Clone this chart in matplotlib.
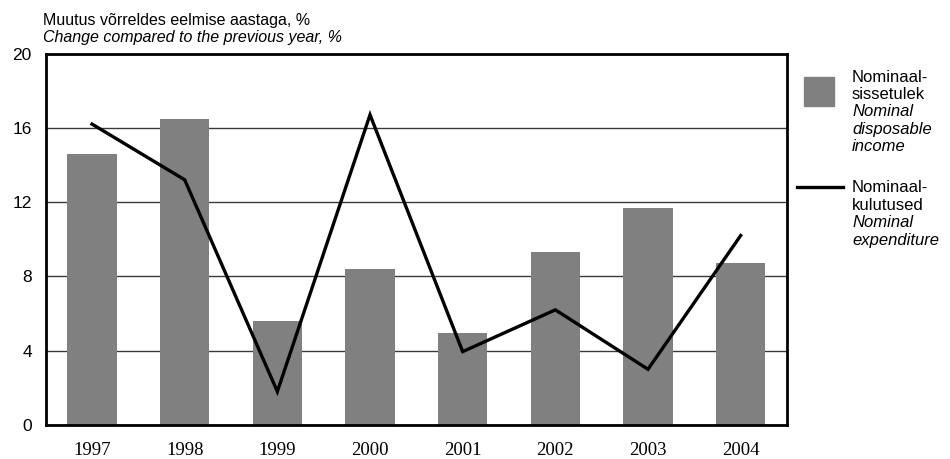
import matplotlib
matplotlib.use("Agg")
import matplotlib.pyplot as plt
from matplotlib.patches import Rectangle
from matplotlib.lines import Line2D

years = ["1997", "1998", "1999", "2000", "2001", "2002", "2003", "2004"]
income = [14.6, 16.5, 5.6, 8.4, 4.95, 9.3, 11.7, 8.7]
expenditure = [16.2, 13.2, 1.8, 16.7, 3.95, 6.2, 3.0, 10.2]
yticks = [0, 4, 8, 12, 16, 20]

W, H = 950, 459
fig = plt.figure(figsize=(9.5, 4.59), dpi=100)
ax = fig.add_axes([45.7 / W, 1 - 425 / H, (787 - 45.7) / W, (425 - 53.5) / H])

sans = "Liberation Sans"
serif = "Liberation Serif"
bar_col = "#808080"

x = list(range(len(years)))
ax.bar(x, income, width=0.53, color=bar_col, zorder=2)
ax.plot(x, expenditure, color="black", lw=2.4, zorder=3, solid_joinstyle="miter")

ax.set_xlim(-0.5, len(years) - 0.5)
ax.set_ylim(0, 20)
ax.set_yticks(yticks)
ax.set_yticklabels([str(v) for v in yticks], fontfamily=sans, fontsize=12.5)
ax.set_xticks(x)
ax.set_xticklabels(years, fontfamily=serif, fontsize=13.5)
ax.tick_params(axis="y", length=0, pad=10)
ax.tick_params(axis="x", length=0, pad=12.5)
ax.yaxis.grid(True, color="#3a3a3a", lw=1.0, zorder=1)
ax.set_axisbelow(True)
for s in ax.spines.values():
    s.set_linewidth(2.0)
    s.set_color("black")

# titles
fig.text(43 / W, 1 - 25 / H, "Muutus võrreldes eelmise aastaga, %", fontfamily=sans,
         fontsize=11.5, va="baseline", ha="left")
fig.text(43 / W, 1 - 42 / H, "Change compared to the previous year, %", fontfamily=sans,
         fontsize=11.5, style="italic", va="baseline", ha="left")

# legend
fig.patches.append(Rectangle((804 / W, 1 - 105.7 / H), 30 / W, 29 / H,
                             transform=fig.transFigure, color=bar_col, figure=fig))
fig.lines.append(Line2D([797 / W, 843 / W], [1 - 187 / H, 1 - 187 / H],
                        transform=fig.transFigure, color="black", lw=2.4, figure=fig))

leg1 = [("Nominaal-", "normal"), ("sissetulek", "normal"), ("Nominal", "italic"),
        ("disposable", "italic"), ("income", "italic")]
leg2 = [("Nominaal-", "normal"), ("kulutused", "normal"), ("Nominal", "italic"),
        ("expenditure", "italic")]
pitch = 17.5
for i, (t, st) in enumerate(leg1):
    fig.text(852 / W, 1 - (81.5 + i * pitch) / H, t, fontfamily=sans, fontsize=12,
             style=st, va="baseline", ha="left")
for i, (t, st) in enumerate(leg2):
    fig.text(852 / W, 1 - (192 + i * pitch) / H, t, fontfamily=sans, fontsize=12,
             style=st, va="baseline", ha="left")

fig.savefig("out.png", dpi=100)
